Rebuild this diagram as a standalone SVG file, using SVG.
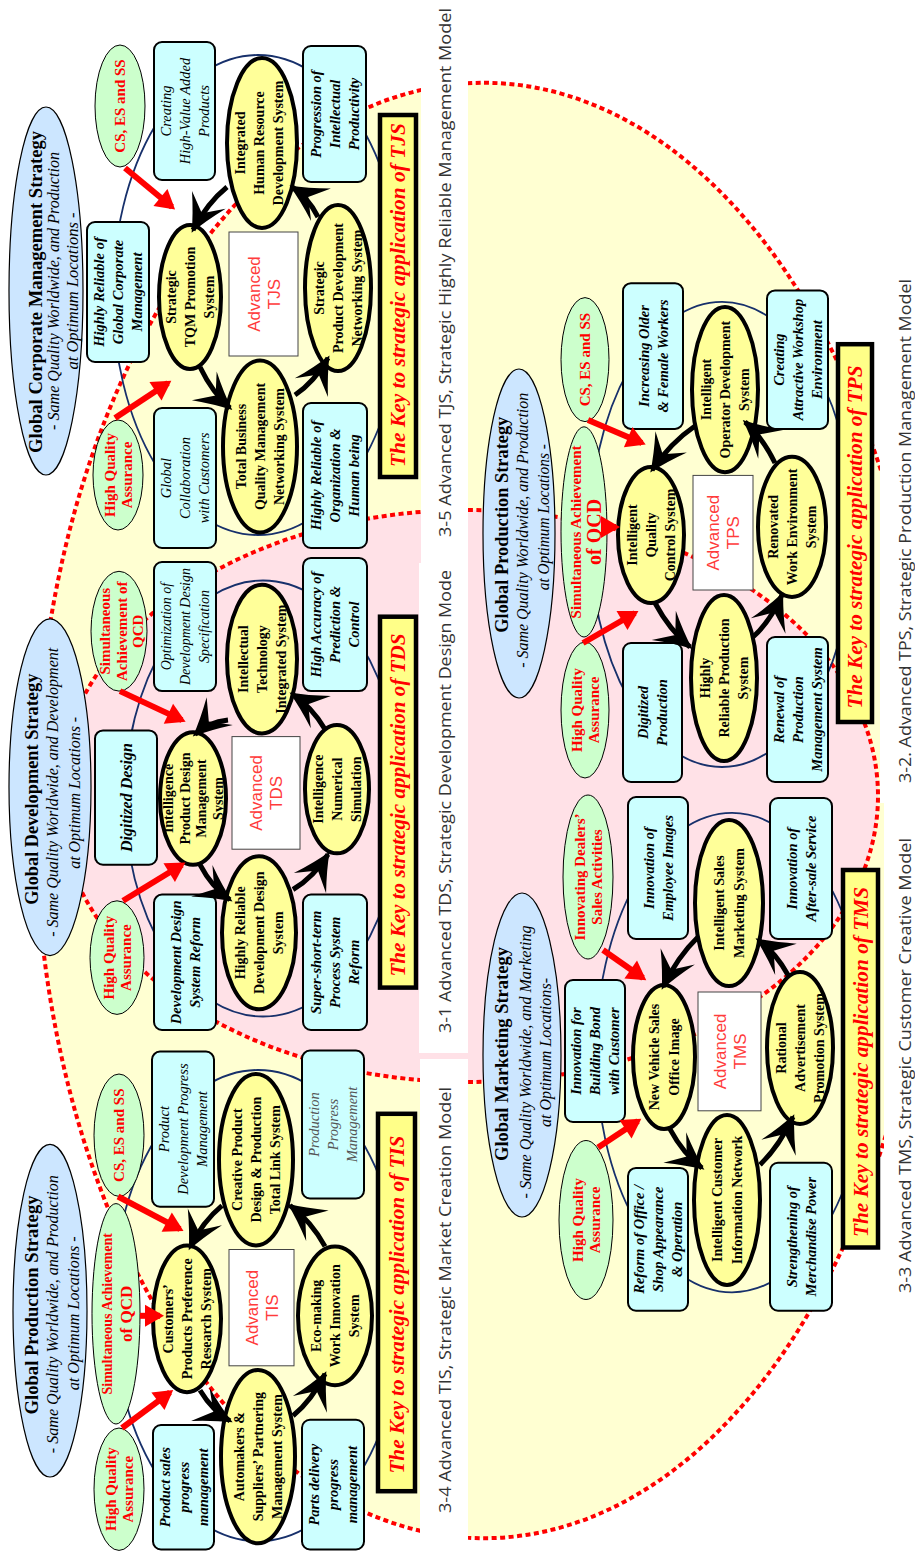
<svg xmlns="http://www.w3.org/2000/svg" width="915" height="1551" viewBox="0 0 915 1551">
<defs>
<style>
.bgo{fill:#FFFFD2;stroke:#FF0000;stroke-width:4;stroke-dasharray:5 3.5}
.bgp{fill:#FFE1E7;stroke:#FF0000;stroke-width:4;stroke-dasharray:5 3.5}
.capr{fill:#FFFFFF}
.ring{fill:none;stroke:#17306B;stroke-width:1.8}
.yl{fill:#FFFF99;stroke:#000;stroke-width:4}
.bx{fill:#CCFFFF;stroke:#000;stroke-width:2}
.gr{fill:#CCFFCC;stroke:#000;stroke-width:1}
.bl{fill:#CCE6FF;stroke:#000;stroke-width:1.2}
.adv{fill:#FFFFFF;stroke:#444;stroke-width:1}
.key{fill:#FFFF88;stroke:#000;stroke-width:4.5}
text{font-family:"Liberation Serif","Times New Roman",serif;text-anchor:middle}
.cap{font-family:"Open Sans","Noto Sans","DejaVu Sans",sans-serif;font-size:17px;fill:#333;text-anchor:start}
.yt{font-weight:bold;font-size:14px;fill:#000}
.bt{font-weight:bold;font-style:italic;font-size:14.5px;fill:#000}
.it{font-style:italic;font-size:14.5px;fill:#000}
.gt{font-weight:bold;font-size:15px;fill:#FF0000}
.ti{font-weight:bold;font-size:18.5px;fill:#000}
.sub{font-style:italic;font-size:16px;fill:#000}
.kt{font-weight:bold;font-style:italic;font-size:21.5px;fill:#FF0000}
.at{font-family:"Liberation Sans",Arial,sans-serif;font-size:17px;fill:#FF3B3B}
.cn{fill:none;stroke:#000;stroke-width:5}
.rc{fill:none;stroke:#FF0000;stroke-width:6}
</style>
<marker id="ah" markerUnits="userSpaceOnUse" orient="auto" markerWidth="1" markerHeight="1" overflow="visible">
<path d="M3,0 Q-14,-7 -34,-19 L-19,0 L-34,19 Q-14,7 3,0 Z" fill="#000"/>
</marker>
<marker id="rh" markerUnits="userSpaceOnUse" orient="auto" markerWidth="1" markerHeight="1" overflow="visible">
<path d="M4,0 L-15,-11 L-15,11 Z" fill="#FF0000"/>
</marker>
</defs>
<g transform="translate(0,1551) rotate(-90)">
<g id="background">
<ellipse class="bgo" cx="740.5" cy="484" rx="727.7" ry="449"/>
<ellipse class="bgp" cx="755" cy="468" rx="286" ry="410"/>
</g>
<g id="captions">
<rect class="capr" x="0" y="420" width="492" height="48"/>
<text class="cap" x="38" y="451" textLength="426" lengthAdjust="spacingAndGlyphs">3-4 Advanced TIS, Strategic Market Creation Model</text>
<rect class="capr" x="498" y="419" width="490" height="49"/>
<text class="cap" x="518" y="451" textLength="463" lengthAdjust="spacingAndGlyphs">3-1 Advanced TDS, Strategic Development Design Mode</text>
<rect class="capr" x="981" y="421" width="570" height="47"/>
<text class="cap" x="1014" y="451" textLength="529" lengthAdjust="spacingAndGlyphs">3-5 Advanced TJS, Strategic Highly Reliable Management Model</text>
<rect class="capr" x="748" y="880" width="803" height="35"/>
<text class="cap" x="768" y="911" textLength="504" lengthAdjust="spacingAndGlyphs">3-2. Advanced TPS, Strategic Production Management Model</text>
<rect class="capr" x="0" y="884" width="748" height="31"/>
<text class="cap" x="258" y="911" textLength="455" lengthAdjust="spacingAndGlyphs">3-3 Advanced TMS, Strategic Customer Creative Model</text>
</g>
<g id="rings">
<ellipse class="ring" cx="245.4" cy="258" rx="235.6" ry="145"/>
<ellipse class="ring" cx="752.5" cy="263" rx="218" ry="138"/>
<ellipse class="ring" cx="1256" cy="258" rx="240" ry="145"/>
<ellipse class="ring" cx="1016.6" cy="722" rx="232.6" ry="132"/>
<ellipse class="ring" cx="498.4" cy="732" rx="239.7" ry="136"/>
</g>

<!-- TIS panel -->
<g id="tis-strategy"><ellipse class="bl" cx="240.3" cy="50" rx="166.3" ry="37"/>
<text class="ti" x="246" y="37.5" textLength="219" lengthAdjust="spacingAndGlyphs">Global Production Strategy</text>
<text class="sub" x="236.8" y="58" textLength="278" lengthAdjust="spacingAndGlyphs">- Same Quality Worldwide, and Production</text>
<text class="sub" x="237.7" y="79" textLength="154" lengthAdjust="spacingAndGlyphs">at Optimum Locations -</text></g>
<g id="tis-cs"><ellipse class="gr" cx="415.8" cy="119" rx="61.2" ry="25"/><text class="gt" x="415.8" y="124">CS, ES and SS</text></g>
<g id="tis-qcd"><ellipse class="gr" cx="237.2" cy="116" rx="110.2" ry="24"/><text class="gt"><tspan x="237.2" y="112" font-size="14">Simultaneous Achievement</tspan><tspan x="237.2" y="132" font-size="17">of QCD</tspan></text></g>
<g id="tis-hqa"><ellipse class="gr" cx="61.8" cy="119" rx="61.2" ry="25"/><text class="gt"><tspan x="61.8" y="115.6">High Quality</tspan><tspan x="61.8" y="132.6">Assurance</tspan></text></g>
<g id="tis-pdpm"><rect class="bx" x="344.3" y="152" width="155.1" height="62" rx="8"/><text class="it"><tspan x="421.9" y="169">Product</tspan><tspan x="421.9" y="188">Development Progress</tspan><tspan x="421.9" y="207">Management</tspan></text></g>
<g id="tis-pspm"><rect class="bx" x="1.5" y="153" width="124.5" height="61" rx="8"/><text class="bt"><tspan x="63.8" y="169.5">Product sales</tspan><tspan x="63.8" y="188.5">progress</tspan><tspan x="63.8" y="207.5">management</tspan></text></g>
<g id="tis-ppm"><rect class="bx" x="352.5" y="302" width="147.9" height="62" rx="8"/><text class="it" style="fill:#555"><tspan x="426.5" y="319">Production</tspan><tspan x="426.5" y="338">Progress</tspan><tspan x="426.5" y="357">Management</tspan></text></g>
<g id="tis-pdlpm"><rect class="bx" x="1.5" y="302" width="129.7" height="62" rx="8"/><text class="bt"><tspan x="66.4" y="319">Parts delivery</tspan><tspan x="66.4" y="338">progress</tspan><tspan x="66.4" y="357">management</tspan></text></g>
<g id="tis-cpprs"><ellipse class="yl" cx="232.2" cy="187" rx="73.4" ry="34"/><text class="yt"><tspan x="232.2" y="172.8">Customers’</tspan><tspan x="232.2" y="191.8">Products Preference</tspan><tspan x="232.2" y="210.8">Research System</tspan></text></g>
<g id="tis-cpdp"><ellipse class="yl" cx="391.3" cy="256" rx="85.7" ry="37"/><text class="yt"><tspan x="391.3" y="241.8">Creative Product</tspan><tspan x="391.3" y="260.8">Design &amp; Production</tspan><tspan x="391.3" y="279.8">Total Link System</tspan></text></g>
<g id="tis-aspm"><ellipse class="yl" cx="94.4" cy="258" rx="86.7" ry="37"/><text class="yt"><tspan x="94.4" y="243.8">Automakers &amp;</tspan><tspan x="94.4" y="262.8">Suppliers’ Partnering</tspan><tspan x="94.4" y="281.8">Management System</tspan></text></g>
<g id="tis-ewis"><ellipse class="yl" cx="235.2" cy="335" rx="69.4" ry="37"/><text class="yt"><tspan x="235.2" y="320.8">Eco-making</tspan><tspan x="235.2" y="339.8">Work Innovation</tspan><tspan x="235.2" y="358.8">System</tspan></text></g>
<g id="tis-adv"><rect class="adv" x="185.2" y="229" width="116.3" height="65"/><text class="at"><tspan x="243.4" y="257.5">Advanced</tspan><tspan x="243.4" y="277.5">TIS</tspan></text></g>
<g id="tis-key"><rect class="key" x="59.8" y="378" width="377.4" height="37"/><text class="kt" x="246.4" y="404" textLength="338" lengthAdjust="spacingAndGlyphs">The Key to strategic application of TIS</text></g>

<!-- TDS panel -->
<g id="tds-strategy"><ellipse class="bl" cx="763.8" cy="50" rx="168.4" ry="41"/>
<text class="ti" x="761.8" y="37.5" textLength="231" lengthAdjust="spacingAndGlyphs">Global Development Strategy</text>
<text class="sub" x="758.7" y="58" textLength="289" lengthAdjust="spacingAndGlyphs">- Same Quality Worldwide, and Development</text>
<text class="sub" x="758.2" y="80" textLength="152" lengthAdjust="spacingAndGlyphs">at Optimum Locations -</text></g>
<g id="tds-qcd"><ellipse class="gr" cx="919.8" cy="119" rx="59.9" ry="28"/><text class="gt"><tspan x="919.8" y="110">Simultaneous</tspan><tspan x="919.8" y="126.5">Achievement of</tspan><tspan x="919.8" y="143">QCD</tspan></text></g>
<g id="tds-hqa"><ellipse class="gr" cx="593.4" cy="117" rx="56.8" ry="27"/><text class="gt"><tspan x="593.4" y="113.6">High Quality</tspan><tspan x="593.4" y="130.6">Assurance</tspan></text></g>
<g id="tds-odds"><rect class="bx" x="859.9" y="154" width="129.1" height="62" rx="8"/><text class="it" style="font-size:14px"><tspan x="924.5" y="171">Optimization of</tspan><tspan x="924.5" y="190">Development Design</tspan><tspan x="924.5" y="209">Specification</tspan></text></g>
<g id="tds-dd"><rect class="bx" x="686.3" y="95" width="134.3" height="62" rx="8"/><text class="bt" x="753.5" y="131.5" style="font-size:16px">Digitized Design</text></g>
<g id="tds-ddsr"><rect class="bx" x="521" y="154" width="135.4" height="62" rx="8"/><text class="bt"><tspan x="588.7" y="180.5">Development Design</tspan><tspan x="588.7" y="199.5">System Reform</tspan></text></g>
<g id="tds-hapc"><rect class="bx" x="859.9" y="303" width="133.2" height="64" rx="8"/><text class="bt"><tspan x="926.5" y="321">High Accuracy of</tspan><tspan x="926.5" y="340">Prediction &amp;</tspan><tspan x="926.5" y="359">Control</tspan></text></g>
<g id="tds-sspsr"><rect class="bx" x="521" y="303" width="135.4" height="64" rx="8"/><text class="bt"><tspan x="588.7" y="321">Super-short-term</tspan><tspan x="588.7" y="340">Process System</tspan><tspan x="588.7" y="359">Reform</tspan></text></g>
<g id="tds-ipdms"><ellipse class="yl" cx="752.5" cy="193" rx="66.2" ry="33"/><text class="yt"><tspan x="752.5" y="173">Intelligence</tspan><tspan x="752.5" y="189.5">Product Design</tspan><tspan x="752.5" y="206">Management</tspan><tspan x="752.5" y="222.5">System</tspan></text></g>
<g id="tds-itis"><ellipse class="yl" cx="891.9" cy="262" rx="74.4" ry="35"/><text class="yt"><tspan x="891.9" y="247.8">Intellectual</tspan><tspan x="891.9" y="266.8">Technology</tspan><tspan x="891.9" y="285.8">Integrated System</tspan></text></g>
<g id="tds-hrdds"><ellipse class="yl" cx="618.2" cy="259" rx="76.5" ry="37"/><text class="yt"><tspan x="618.2" y="244.8">Highly Reliable</tspan><tspan x="618.2" y="263.8">Development Design</tspan><tspan x="618.2" y="282.8">System</tspan></text></g>
<g id="tds-ins"><ellipse class="yl" cx="761.8" cy="337" rx="64.1" ry="32"/><text class="yt"><tspan x="761.8" y="322.8">Intelligence</tspan><tspan x="761.8" y="341.8">Numerical</tspan><tspan x="761.8" y="360.8">Simulation</tspan></text></g>
<g id="tds-adv"><rect class="adv" x="701.8" y="232" width="112.6" height="68"/><text class="at"><tspan x="758.1" y="262">Advanced</tspan><tspan x="758.1" y="282">TDS</tspan></text></g>
<g id="tds-key"><rect class="key" x="563.4" y="380" width="370.9" height="36"/><text class="kt" x="746" y="405" textLength="343" lengthAdjust="spacingAndGlyphs">The Key to strategic application of TDS</text></g>

<!-- TJS panel -->
<g id="tjs-strategy"><ellipse class="bl" cx="1260" cy="46" rx="184" ry="37"/>
<text class="ti" x="1259" y="41.5" textLength="322" lengthAdjust="spacingAndGlyphs">Global Corporate Management Strategy</text>
<text class="sub" x="1260" y="59" textLength="278" lengthAdjust="spacingAndGlyphs">- Same Quality Worldwide, and Production</text>
<text class="sub" x="1260" y="78" textLength="157" lengthAdjust="spacingAndGlyphs">at Optimum Locations -</text></g>
<g id="tjs-cs"><ellipse class="gr" cx="1445" cy="120" rx="61" ry="25"/><text class="gt" x="1445" y="125">CS, ES and SS</text></g>
<g id="tjs-hqa"><ellipse class="gr" cx="1076" cy="118" rx="55" ry="25"/><text class="gt"><tspan x="1076" y="114.6">High Quality</tspan><tspan x="1076" y="131.6">Assurance</tspan></text></g>
<g id="tjs-chvap"><rect class="bx" x="1371" y="154" width="138" height="61" rx="8"/><text class="it"><tspan x="1440" y="170.5">Creating</tspan><tspan x="1440" y="189.5">High-Value Added</tspan><tspan x="1440" y="208.5">Products</tspan></text></g>
<g id="tjs-hrgcm"><rect class="bx" x="1189" y="87" width="140" height="62" rx="8"/><text class="bt"><tspan x="1259" y="104">Highly Reliable of</tspan><tspan x="1259" y="123">Global Corporate</tspan><tspan x="1259" y="142">Management</tspan></text></g>
<g id="tjs-gcc"><rect class="bx" x="1003" y="154" width="140" height="62" rx="8"/><text class="it"><tspan x="1073" y="171">Global</tspan><tspan x="1073" y="190">Collaboration</tspan><tspan x="1073" y="209">with Customers</tspan></text></g>
<g id="tjs-pip"><rect class="bx" x="1369" y="303" width="136" height="63" rx="8"/><text class="bt"><tspan x="1437" y="320.5">Progression of</tspan><tspan x="1437" y="339.5">Intellectual</tspan><tspan x="1437" y="358.5">Productivity</tspan></text></g>
<g id="tjs-hrohb"><rect class="bx" x="1003" y="303" width="145" height="64" rx="8"/><text class="bt"><tspan x="1075.5" y="321">Highly Reliable of</tspan><tspan x="1075.5" y="340">Organization &amp;</tspan><tspan x="1075.5" y="359">Human being</tspan></text></g>
<g id="tjs-stqm"><ellipse class="yl" cx="1254" cy="190" rx="72" ry="31"/><text class="yt"><tspan x="1254" y="175.8">Strategic</tspan><tspan x="1254" y="194.8">TQM Promotion</tspan><tspan x="1254" y="213.8">System</tspan></text></g>
<g id="tjs-ihrds"><ellipse class="yl" cx="1408" cy="262" rx="85" ry="35"/><text class="yt"><tspan x="1408" y="245">Integrated</tspan><tspan x="1408" y="264">Human Resource</tspan><tspan x="1408" y="283">Development System</tspan></text></g>
<g id="tjs-tbqm"><ellipse class="yl" cx="1104.5" cy="260" rx="86" ry="37"/><text class="yt"><tspan x="1104.5" y="245.8">Total Business</tspan><tspan x="1104.5" y="264.8">Quality Management</tspan><tspan x="1104.5" y="283.8">Networking System</tspan></text></g>
<g id="tjs-spdn"><ellipse class="yl" cx="1263" cy="338" rx="83" ry="33"/><text class="yt"><tspan x="1263" y="323.8">Strategic</tspan><tspan x="1263" y="342.8">Product Development</tspan><tspan x="1263" y="361.8">Networking System</tspan></text></g>
<g id="tjs-adv"><rect class="adv" x="1195" y="229" width="124" height="69"/><text class="at"><tspan x="1257" y="259.5">Advanced</tspan><tspan x="1257" y="279.5">TJS</tspan></text></g>
<g id="tjs-key"><rect class="key" x="1074" y="380" width="362" height="36"/><text class="kt" x="1256" y="405" textLength="344" lengthAdjust="spacingAndGlyphs">The Key to strategic application of TJS</text></g>

<!-- TPS panel -->
<g id="tps-strategy"><ellipse class="bl" cx="1017.5" cy="519" rx="164.5" ry="36"/>
<text class="ti" x="1026.3" y="507.5" textLength="216" lengthAdjust="spacingAndGlyphs">Global Production Strategy</text>
<text class="sub" x="1020.7" y="528" textLength="275" lengthAdjust="spacingAndGlyphs">- Same Quality Worldwide, and Production</text>
<text class="sub" x="1033.8" y="549" textLength="146" lengthAdjust="spacingAndGlyphs">at Optimum Locations -</text></g>
<g id="tps-cs"><ellipse class="gr" cx="1191.4" cy="585" rx="62" ry="24"/><text class="gt" x="1191.4" y="590">CS, ES and SS</text></g>
<g id="tps-qcd"><ellipse class="gr" cx="1019.1" cy="584" rx="105.1" ry="23"/><text class="gt"><tspan x="1019.1" y="581" font-size="15">Simultaneous Achievement</tspan><tspan x="1019.1" y="601" font-size="20">of QCD</tspan></text></g>
<g id="tps-hqa"><ellipse class="gr" cx="841" cy="585" rx="68" ry="24"/><text class="gt"><tspan x="841" y="581.6">High Quality</tspan><tspan x="841" y="598.6">Assurance</tspan></text></g>
<g id="tps-iofw"><rect class="bx" x="1122.1" y="623" width="145.7" height="60" rx="8"/><text class="bt"><tspan x="1195" y="648.5">Increasing Older</tspan><tspan x="1195" y="667.5">&amp; Female Workers</tspan></text></g>
<g id="tps-cawe"><rect class="bx" x="1122.1" y="767" width="138.5" height="61" rx="8"/><text class="bt"><tspan x="1191.4" y="783.5">Creating</tspan><tspan x="1191.4" y="802.5">Attractive Workshop</tspan><tspan x="1191.4" y="821.5">Environment</tspan></text></g>
<g id="tps-dp"><rect class="bx" x="769" y="623" width="139" height="59" rx="8"/><text class="bt"><tspan x="838.5" y="648">Digitized</tspan><tspan x="838.5" y="667">Production</tspan></text></g>
<g id="tps-rpms"><rect class="bx" x="769" y="767" width="145" height="61" rx="8"/><text class="bt"><tspan x="841.5" y="783.5">Renewal of</tspan><tspan x="841.5" y="802.5">Production</tspan><tspan x="841.5" y="821.5">Management System</tspan></text></g>
<g id="tps-iods"><ellipse class="yl" cx="1161.4" cy="725" rx="82.7" ry="33"/><text class="yt"><tspan x="1161.4" y="710.8">Intelligent</tspan><tspan x="1161.4" y="729.8">Operator Development</tspan><tspan x="1161.4" y="748.8">System</tspan></text></g>
<g id="tps-iqcs"><ellipse class="yl" cx="1016" cy="651" rx="68" ry="33"/><text class="yt"><tspan x="1016" y="636.8">Intelligent</tspan><tspan x="1016" y="655.8">Quality</tspan><tspan x="1016" y="674.8">Control System</tspan></text></g>
<g id="tps-hrps"><ellipse class="yl" cx="873" cy="724" rx="83" ry="33"/><text class="yt"><tspan x="873" y="709.8">Highly</tspan><tspan x="873" y="728.8">Reliable Production</tspan><tspan x="873" y="747.8">System</tspan></text></g>
<g id="tps-rwes"><ellipse class="yl" cx="1024.1" cy="792" rx="70.1" ry="34"/><text class="yt"><tspan x="1024.1" y="777.8">Renovated</tspan><tspan x="1024.1" y="796.8">Work Environment</tspan><tspan x="1024.1" y="815.8">System</tspan></text></g>
<g id="tps-adv"><rect class="adv" x="961" y="693" width="114.6" height="60"/><text class="at"><tspan x="1018.3" y="719">Advanced</tspan><tspan x="1018.3" y="739">TPS</tspan></text></g>
<g id="tps-key"><rect class="key" x="829" y="838" width="377.8" height="34"/><text class="kt" x="1014" y="862" textLength="343" lengthAdjust="spacingAndGlyphs">The Key to strategic application of TPS</text></g>

<!-- TMS panel -->
<g id="tms-strategy"><ellipse class="bl" cx="496" cy="522" rx="162" ry="39"/>
<text class="ti" x="497" y="507.5" textLength="214" lengthAdjust="spacingAndGlyphs">Global Marketing Strategy</text>
<text class="sub" x="489" y="531" textLength="273" lengthAdjust="spacingAndGlyphs">- Same Quality Worldwide, and Marketing</text>
<text class="sub" x="498.5" y="551" textLength="149" lengthAdjust="spacingAndGlyphs">at Optimum Locations-</text></g>
<g id="tms-idsa"><ellipse class="gr" cx="674" cy="588" rx="82" ry="25"/><text class="gt"><tspan x="674" y="584.6">Innovating Dealers’</tspan><tspan x="674" y="601.6">Sales Activities</tspan></text></g>
<g id="tms-hqa"><ellipse class="gr" cx="331" cy="586" rx="79.5" ry="27"/><text class="gt"><tspan x="331" y="582.6">High Quality</tspan><tspan x="331" y="599.6">Assurance</tspan></text></g>
<g id="tms-ibbc"><rect class="bx" x="429" y="565" width="142" height="60" rx="8"/><text class="bt"><tspan x="500" y="581">Innovation for</tspan><tspan x="500" y="600">Building Bond</tspan><tspan x="500" y="619">with Customer</tspan></text></g>
<g id="tms-iei"><rect class="bx" x="612" y="628" width="142" height="60" rx="8"/><text class="bt"><tspan x="683" y="653.5">Innovation of</tspan><tspan x="683" y="672.5">Employee Images</tspan></text></g>
<g id="tms-ias"><rect class="bx" x="612" y="770" width="141" height="62" rx="8"/><text class="bt"><tspan x="682.5" y="796.5">Innovation of</tspan><tspan x="682.5" y="815.5">After-sale Service</tspan></text></g>
<g id="tms-rosa"><rect class="bx" x="240.3" y="628" width="142.8" height="60" rx="8"/><text class="bt"><tspan x="311.7" y="644">Reform of Office /</tspan><tspan x="311.7" y="663">Shop Appearance</tspan><tspan x="311.7" y="682">&amp; Operation</tspan></text></g>
<g id="tms-smp"><rect class="bx" x="240.3" y="770" width="147.9" height="62" rx="8"/><text class="bt"><tspan x="314.3" y="796.5">Strengthening of</tspan><tspan x="314.3" y="815.5">Merchandise Power</tspan></text></g>
<g id="tms-nvsoi"><ellipse class="yl" cx="494" cy="664" rx="72" ry="31"/><text class="yt"><tspan x="494" y="658.8">New Vehicle Sales</tspan><tspan x="494" y="678.8">Office Image</tspan></text></g>
<g id="tms-isms"><ellipse class="yl" cx="648" cy="729" rx="83" ry="34"/><text class="yt"><tspan x="648" y="723.8">Intelligent Sales</tspan><tspan x="648" y="743.8">Marketing System</tspan></text></g>
<g id="tms-icin"><ellipse class="yl" cx="351" cy="727" rx="85" ry="33"/><text class="yt"><tspan x="351" y="721.8">Intelligent Customer</tspan><tspan x="351" y="741.8">Information Network</tspan></text></g>
<g id="tms-raps"><ellipse class="yl" cx="503" cy="800" rx="76" ry="33"/><text class="yt"><tspan x="503" y="785.8">Rational</tspan><tspan x="503" y="804.8">Advertisement</tspan><tspan x="503" y="823.8">Promotion System</tspan></text></g>
<g id="tms-adv"><rect class="adv" x="440.2" y="698" width="118.8" height="63"/><text class="at"><tspan x="499.6" y="725.5">Advanced</tspan><tspan x="499.6" y="745.5">TMS</tspan></text></g>
<g id="tms-key"><rect class="key" x="303.5" y="843" width="377.5" height="35"/><text class="kt" x="489" y="868" textLength="350" lengthAdjust="spacingAndGlyphs">The Key to strategic application of TMS</text></g>

<g id="connectors">
<path class="cn" marker-end="url(#ah)" d="M160.7,200 Q139.8,212.6 130.1,230"/>
<path class="cn" marker-end="url(#ah)" d="M135.2,293 Q150.8,312 177.1,325"/>
<path class="cn" marker-end="url(#ah)" d="M304.6,325 Q330.2,310.7 345.4,290"/>
<path class="cn" marker-end="url(#ah)" d="M345.4,222 Q329.6,202.7 303.5,190"/>
<path class="cn" marker-end="url(#ah)" d="M686.3,200 Q663.4,211.9 651.2,230"/>
<path class="cn" marker-end="url(#ah)" d="M661.5,293 Q674,313.8 696.7,328"/>
<path class="cn" marker-end="url(#ah)" d="M821.7,325 Q844.7,311.4 856.8,292"/>
<path class="cn" marker-end="url(#ah)" d="M830.9,228 Q828.7,207.9 816.5,195"/>
<path class="cn" marker-end="url(#ah)" d="M1184,200 Q1158.1,212.5 1143,230"/>
<path class="cn" marker-end="url(#ah)" d="M1156,295 Q1169.5,314.8 1193,328"/>
<path class="cn" marker-end="url(#ah)" d="M1334,318 Q1354.4,307.7 1364,292"/>
<path class="cn" marker-end="url(#ah)" d="M1364,227 Q1347.8,207.1 1321,193"/>
<path class="cn" marker-end="url(#ah)" d="M948,655 Q920.7,669.7 904,690"/>
<path class="cn" marker-end="url(#ah)" d="M914,753 Q929.7,770.3 956,782"/>
<path class="cn" marker-end="url(#ah)" d="M1088,775 Q1114,762.3 1129,745"/>
<path class="cn" marker-end="url(#ah)" d="M1125,695 Q1108.3,670.6 1081,652"/>
<path class="cn" marker-end="url(#ah)" d="M421.9,670 Q397,683.4 383.1,702"/>
<path class="cn" marker-end="url(#ah)" d="M386.2,760 Q404.6,779.2 434.1,793"/>
<path class="cn" marker-end="url(#ah)" d="M576,788 Q599,775.4 611,758"/>
<path class="cn" marker-end="url(#ah)" d="M614,698 Q594.2,677.5 564,663"/>
<path class="rc" marker-end="url(#rh)" d="M354.5,118 L321.9,180"/>
<path class="rc" marker-end="url(#rh)" d="M235.2,140 L235.2,160"/>
<path class="rc" marker-end="url(#rh)" d="M123,122 L158.7,170"/>
<path class="rc" marker-end="url(#rh)" d="M859.9,120 L830.9,182"/>
<path class="rc" marker-end="url(#rh)" d="M650.2,123 L686.3,182"/>
<path class="rc" marker-end="url(#rh)" d="M1383,125 L1344,172"/>
<path class="rc" marker-end="url(#rh)" d="M1133,115 L1168,168"/>
<path class="rc" marker-end="url(#rh)" d="M1131,588 L1108,642"/>
<path class="rc" marker-end="url(#rh)" d="M1024,603 L1024,616"/>
<path class="rc" marker-end="url(#rh)" d="M908,583 L938,635"/>
<path class="rc" marker-end="url(#rh)" d="M601,603 L573,643"/>
<path class="rc" marker-end="url(#rh)" d="M403.5,598 L430,638"/>
</g>
</g>
</svg>
